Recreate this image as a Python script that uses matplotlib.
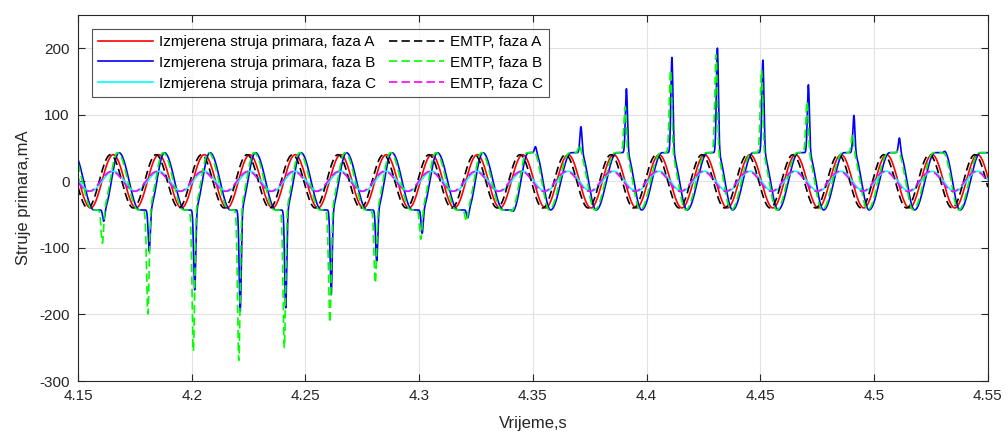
import numpy as np
import matplotlib
matplotlib.use("Agg")
import matplotlib.pyplot as plt

# ---------------- data ----------------
x_ticks = [4.15, 4.2, 4.25, 4.3, 4.35, 4.4, 4.45, 4.5, 4.55]
x_tick_labels = ["4.15", "4.2", "4.25", "4.3", "4.35", "4.4", "4.45", "4.5", "4.55"]
y_ticks = [-300, -200, -100, 0, 100, 200]
y_tick_labels = ["-300", "-200", "-100", "0", "100", "200"]

labels_meas = ["Izmjerena struja primara, faza A",
               "Izmjerena struja primara, faza B",
               "Izmjerena struja primara, faza C"]
labels_emtp = ["EMTP, faza A", "EMTP, faza B", "EMTP, faza C"]

freq = 50.0                      # Hz
t_first, t_last = 4.15, 4.55     # s

# peak amplitudes (mA)
amp_A = 40.0
amp_B = 43.0
amp_C = 15.0

# time of one positive peak of each trace (s)
peak_A_meas, peak_A_emtp = 4.1655, 4.1643
peak_B_meas, peak_B_emtp = 4.1680, 4.1674
peak_C_meas, peak_C_emtp = 4.1655, 4.1648

# phase B inrush spikes: negative ones, one per cycle (4.161 ... 4.341 s)
neg_spike_meas = [-60, -105, -163, -195, -190, -170, -120, -78, -55, -45]
neg_spike_emtp = [-93, -199, -255, -269, -250, -212, -153, -87, -60, -45]
# positive ones, one per cycle (4.351 ... 4.531 s)
pos_spike_meas = [52, 82, 139, 186, 200, 182, 145, 99, 65, 45]
pos_spike_emtp = [45, 55, 112, 167, 190, 167, 120, 70, 45, 42]
switch_cycles = 9                # cycles after the first peak where polarity flips

# ---------------- waveform construction ----------------
T = 1.0 / freq
t = np.linspace(t_first, t_last, 40001)


def sine(t, amp, tpk):
    return amp * np.cos(2 * np.pi * freq * (t - tpk))


def inrush(t, amp, tpk, neg_vals, pos_vals, sigma):
    fall_frac, spike_frac = 0.45, 0.665
    # early part: negative saturation
    k = np.floor((t - tpk) / T)
    tp_k = tpk + k * T
    ph = t - tp_k
    ts = tp_k + spike_frac * T
    fall = amp * np.cos(np.pi * ph / (fall_frac * T))
    rise = -amp * np.cos(np.pi * (t - ts) / (tp_k + T - ts))
    early = np.where(ph < fall_frac * T, fall, np.where(t < ts, -amp, rise))
    idx = (k + 1).astype(int)
    S = np.array([neg_vals[i] if 0 <= i < len(neg_vals) else -amp for i in idx])
    early = early + (S + amp) * np.exp(-0.5 * ((t - ts) / sigma) ** 2)
    # late part: positive saturation
    t_tr = tpk + 0.49 * T
    k2 = np.floor((t - t_tr) / T)
    tt_k = t_tr + k2 * T
    ph2 = t - tt_k
    ts2 = tt_k + spike_frac * T
    rise2 = -amp * np.cos(np.pi * ph2 / (fall_frac * T))
    fall2 = amp * np.cos(np.pi * (t - ts2) / (tt_k + T - ts2))
    late = np.where(ph2 < fall_frac * T, rise2, np.where(t < ts2, amp, fall2))
    idx2 = (k2 - 8).astype(int)
    S2 = np.array([pos_vals[i] if 0 <= i < len(pos_vals) else amp for i in idx2])
    late = late + (S2 - amp) * np.exp(-0.5 * ((t - ts2) / sigma) ** 2)
    t_switch = tpk + switch_cycles * T
    return np.where(t < t_switch, early, late)


iA_m = sine(t, amp_A, peak_A_meas)
iA_e = sine(t, amp_A, peak_A_emtp)
iC_m = sine(t, amp_C, peak_C_meas)
iC_e = sine(t, amp_C, peak_C_emtp)
iB_m = inrush(t, amp_B, peak_B_meas, neg_spike_meas, pos_spike_meas, 0.00045)
iB_e = inrush(t, amp_B, peak_B_emtp, neg_spike_emtp, pos_spike_emtp, 0.00055)

# ---------------- plot ----------------
plt.rcParams['font.family'] = ['Liberation Sans', 'DejaVu Sans']
fig = plt.figure(figsize=(10.08, 4.37), dpi=100)
ax = fig.add_axes([0.0774, 0.128, 0.9026, 0.838])

lw = 1.2
dash = (0, (5, 2.5))
h1, = ax.plot(t, iA_m, color=(1, 0, 0), lw=lw, label=labels_meas[0])
h2, = ax.plot(t, iB_m, color=(0, 0, 1), lw=lw, label=labels_meas[1])
h3, = ax.plot(t, iC_m, color=(0, 1, 1), lw=lw, label=labels_meas[2])
h4, = ax.plot(t, iA_e, color='black', lw=lw, ls=dash, label=labels_emtp[0])
h5, = ax.plot(t, iB_e, color=(0, 1, 0), lw=lw, ls=dash, label=labels_emtp[1])
h6, = ax.plot(t, iC_e, color=(1, 0, 1), lw=lw, ls=dash, label=labels_emtp[2])

ax.set_xlim(t_first, t_last)
ax.set_ylim(-300, 250)
ax.set_xticks(x_ticks)
ax.set_xticklabels(x_tick_labels)
ax.set_yticks(y_ticks)
ax.set_yticklabels(y_tick_labels)
ax.grid(True, color='#e2e2e2', lw=0.8)
ax.set_axisbelow(True)
ax.tick_params(direction='in', top=True, right=True, length=5, width=0.8,
               labelsize=11, colors='#262626')
ax.tick_params(axis='x', pad=6)
ax.tick_params(axis='y', pad=6)
for s in ax.spines.values():
    s.set_color('#262626')
    s.set_linewidth(0.8)

ax.set_xlabel("Vrijeme,s", fontsize=12, color='#262626', labelpad=9)
ax.set_ylabel("Struje primara,mA", fontsize=12, color='#262626', labelpad=6)

leg = ax.legend(handles=[h1, h2, h3, h4, h5, h6], ncol=2, loc='upper left',
                bbox_to_anchor=(0.0154, 0.962), fontsize=11, frameon=True,
                fancybox=False, edgecolor='#262626', handlelength=3.6,
                labelspacing=0.45, columnspacing=0.8, handletextpad=0.4,
                borderpad=0.4, borderaxespad=0.0)
leg.get_frame().set_linewidth(0.8)

fig.savefig("out.png", dpi=100)
